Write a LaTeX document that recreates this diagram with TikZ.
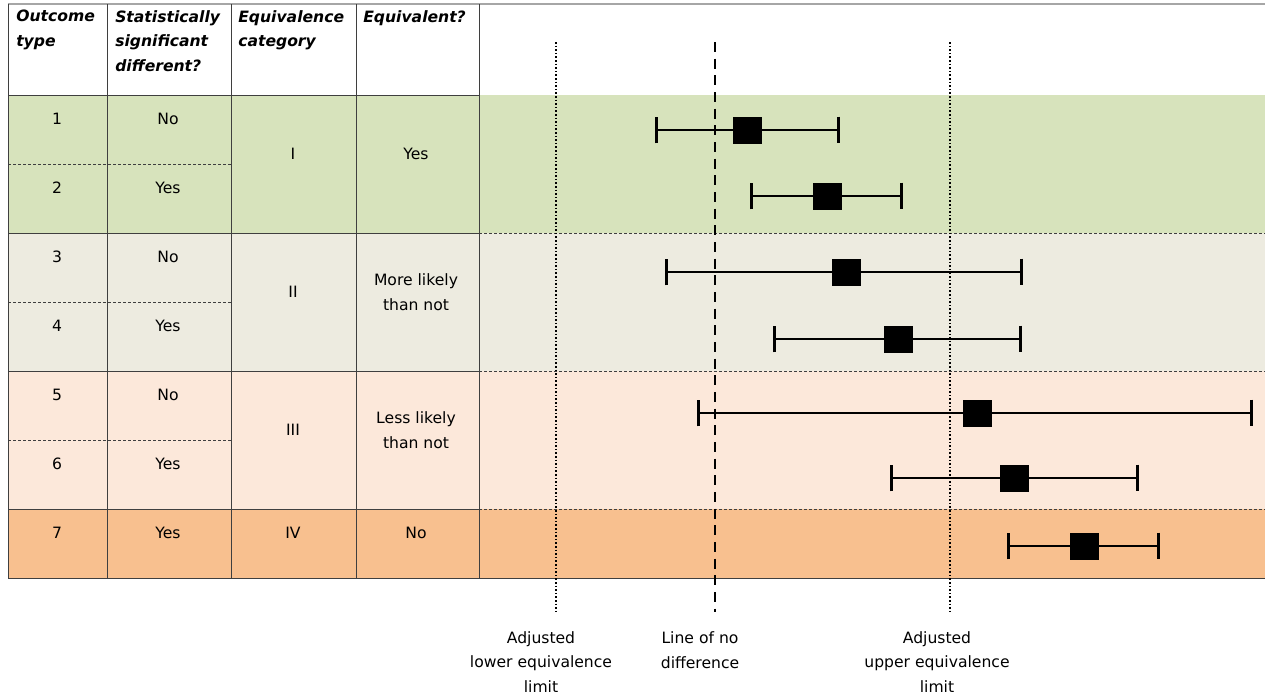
\documentclass[tikz,border=0pt]{standalone}
\usepackage{fontspec}
\setmainfont{DejaVu Sans}
\usetikzlibrary{arrows.meta,positioning}
\definecolor{bandI}{HTML}{D7E3BC}
\definecolor{bandII}{HTML}{EDEBE0}
\definecolor{bandIII}{HTML}{FCE8DA}
\definecolor{bandIV}{HTML}{F8C08F}
\definecolor{gridline}{HTML}{3F3F3F}
\tikzset{
  cell/.style={inner sep=0pt,align=center,font=\fontsize{11.7}{18.4}\selectfont},
  head/.style={inner sep=0pt,align=left,anchor=north west,font=\fontsize{11.7}{18.4}\selectfont\bfseries\itshape},
  grid/.style={draw=gridline,line width=0.75pt},
  topline/.style={draw=gray!70,line width=1.5pt},
  rowsep/.style={draw=gridline,line width=0.6pt,dash pattern=on 2.25pt off 1.5pt},
  groupsep/.style={draw=gridline,line width=0.6pt,dash pattern=on 2.25pt off 1.5pt},
  eqlimit/.style={draw,line width=1.5pt,dash pattern=on 1.2pt off 1.5pt},
  nolimit/.style={draw,line width=1.6pt,dash pattern=on 7.5pt off 5pt},
  ci/.style={draw,line width=1.9pt,{Bar[width=20pt,line width=2.4pt 0]}-{Bar[width=20pt,line width=2.4pt 0]}},
  est/.style={rectangle,fill=black,minimum width=21.75pt,minimum height=20.25pt,inner sep=0pt}
}
\begin{document}
\begin{tikzpicture}[x=0.75pt,y=-0.75pt]
  \useasboundingbox (0,0) rectangle (1265,697);

  % coloured bands
  \fill[bandI] (8,95) rectangle (1265,233);
  \fill[bandII] (8,233) rectangle (1265,371);
  \fill[bandIII] (8,371) rectangle (1265,509);
  \fill[bandIV] (8,509) rectangle (1265,578);

  % table rules
  \draw[topline] (8,4) -- (1265,4);
  \draw[grid] (8,95) -- (479,95);
  \draw[grid] (8,233) -- (479,233) (8,371) -- (479,371) (8,509) -- (479,509);
  \draw[grid] (8,578) -- (1265,578);
  \draw[grid] (8,4) -- (8,578) (107,4) -- (107,578) (231,4) -- (231,578)
              (356,4) -- (356,578) (479,4) -- (479,578);
  \draw[rowsep] (8,164) -- (231,164) (8,302) -- (231,302) (8,440) -- (231,440);
  \draw[groupsep] (479,233) -- (1265,233) (479,371) -- (1265,371) (479,509) -- (1265,509);

  % header
  \node[head] (hout) at (16,10) {Outcome\\type};
  \node[head] (hsig) at (115,10) {Statistically\\significant\\different?};
  \node[head] (hcat) at (238,10) {Equivalence\\category};
  \node[head] (heqv) at (363,10) {Equivalent?};

  % outcome types
  \node[cell] (o1) at (57,119) {1};
  \node[cell] (o2) at (57,188) {2};
  \node[cell] (o3) at (57,257) {3};
  \node[cell] (o4) at (57,326) {4};
  \node[cell] (o5) at (57,395) {5};
  \node[cell] (o6) at (57,464) {6};
  \node[cell] (o7) at (57,533) {7};

  \node[cell] (s1) at (168,119) {No};
  \node[cell] (s2) at (168,188) {Yes};
  \node[cell] (s3) at (168,257) {No};
  \node[cell] (s4) at (168,326) {Yes};
  \node[cell] (s5) at (168,395) {No};
  \node[cell] (s6) at (168,464) {Yes};
  \node[cell] (s7) at (168,533) {Yes};

  \node[cell] (c1) at (293,154) {I};
  \node[cell] (c2) at (293,292) {II};
  \node[cell] (c3) at (293,430) {III};
  \node[cell] (c4) at (293,533) {IV};

  \node[cell] (e1) at (416,154) {Yes};
  \node[cell] (e2) at (416,292) {More likely\\than not};
  \node[cell] (e3) at (416,430) {Less likely\\than not};
  \node[cell] (e4) at (416,533) {No};

  % limits
  \coordinate (lowtop) at (556,42);
  \coordinate (lowbot) at (556,612);
  \coordinate (nulltop) at (715,42);
  \coordinate (nullbot) at (715,612);
  \coordinate (uptop) at (950,42);
  \coordinate (upbot) at (950,612);
  \draw[eqlimit] (lowtop) -- (lowbot);
  \draw[nolimit] (nulltop) -- (nullbot);
  \draw[eqlimit] (uptop) -- (upbot);

  \node[cell] (lowlab) at (541,662) {Adjusted\\lower equivalence\\limit};
  \node[cell] (nulllab) at (700,650) {Line of no\\difference};
  \node[cell] (uplab) at (937,662) {Adjusted\\upper equivalence\\limit};

  % estimates with intervals
  \coordinate (l1) at (655,130);  \coordinate (r1) at (840,130);
  \coordinate (l2) at (750,196);  \coordinate (r2) at (903,196);
  \coordinate (l3) at (665,272);  \coordinate (r3) at (1023,272);
  \coordinate (l4) at (773,339);  \coordinate (r4) at (1022,339);
  \coordinate (l5) at (697,413);  \coordinate (r5) at (1253,413);
  \coordinate (l6) at (890,478);  \coordinate (r6) at (1139,478);
  \coordinate (l7) at (1007,546); \coordinate (r7) at (1160,546);

  \draw[ci] (l1) -- (r1);
  \draw[ci] (l2) -- (r2);
  \draw[ci] (l3) -- (r3);
  \draw[ci] (l4) -- (r4);
  \draw[ci] (l5) -- (r5);
  \draw[ci] (l6) -- (r6);
  \draw[ci] (l7) -- (r7);

  \node[est] (m1) at (747,130) {};
  \node[est] (m2) at (827,196) {};
  \node[est] (m3) at (846,272) {};
  \node[est] (m4) at (898,339) {};
  \node[est] (m5) at (977,413) {};
  \node[est] (m6) at (1014,478) {};
  \node[est] (m7) at (1084,546) {};
\end{tikzpicture}
\end{document}
